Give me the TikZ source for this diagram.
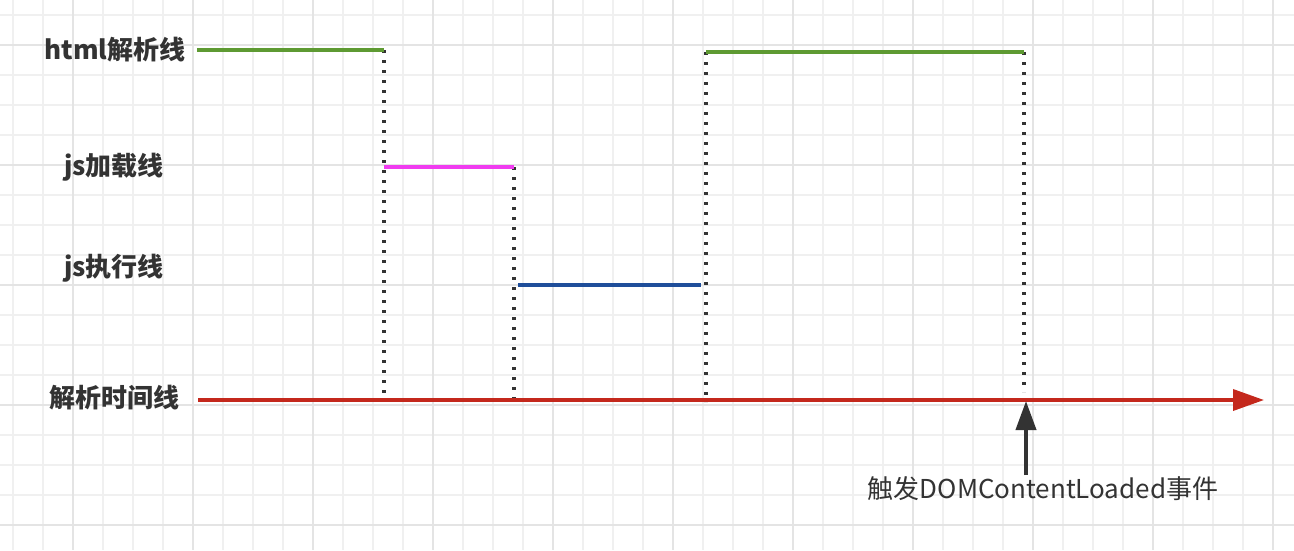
\documentclass[tikz,border=0pt]{standalone}
\usepackage{fontspec}
\usepackage{xcolor}
\usepackage{tikz}
\usetikzlibrary{arrows.meta, positioning}

\newfontfamily\cjk{Noto Sans CJK SC}

\definecolor{gridminor}{HTML}{F0F0F0}
\definecolor{gridmajor}{HTML}{E4E4E4}
\definecolor{htmlgreen}{HTML}{5E9A32}
\definecolor{loadpink}{HTML}{F03CF0}
\definecolor{runblue}{HTML}{1F4E9A}
\definecolor{timered}{HTML}{C4281C}
\definecolor{inkgray}{HTML}{333333}

\begin{document}
\begin{tikzpicture}[
    x=1pt, y=-1pt,
    lbl/.style={font=\cjk\bfseries\fontsize{26}{30}\selectfont, text=inkgray, anchor=center},
    evtlbl/.style={font=\cjk\fontsize{26}{30}\selectfont, text=inkgray, anchor=center},
    htmlline/.style={draw=htmlgreen, line width=3.6pt},
    loadline/.style={draw=loadpink, line width=3.6pt},
    runline/.style={draw=runblue, line width=3.6pt},
    timeline/.style={draw=timered, line width=3.6pt, -{Triangle[length=31pt, width=21pt]}},
    guide/.style={draw=inkgray, line width=3.2pt, dash pattern=on 3.2pt off 6.8pt},
    evtarrow/.style={draw=inkgray, line width=4pt, -{Triangle[length=29pt, width=20pt]}}
]

% background grid
\useasboundingbox (0,0) rectangle (1294,550);
\fill[white] (0,0) rectangle (1294,550);
\foreach \x in {13,43,...,1294} \draw[gridminor, line width=1.5pt] (\x,0) -- (\x,550);
\foreach \y in {15,45,...,550} \draw[gridminor, line width=1.5pt] (0,\y) -- (1294,\y);
\foreach \x in {73,193,...,1294} \draw[gridmajor, line width=2pt] (\x,0) -- (\x,550);
\foreach \y in {45,165,...,550} \draw[gridmajor, line width=2pt] (0,\y) -- (1294,\y);

% row labels
\node[lbl] (htmlLbl) at (115,50) {html解析线};
\node[lbl] (loadLbl) at (114,167) {js加载线};
\node[lbl] (runLbl) at (114,268) {js执行线};
\node[lbl] (timeLbl) at (114,398) {解析时间线};

% step points
\coordinate (htmlA) at (197,50);
\coordinate (htmlB) at (384,50);
\coordinate (loadA) at (384,167);
\coordinate (loadB) at (514,167);
\coordinate (runA) at (518,285);
\coordinate (runB) at (701,285);
\coordinate (htmlC) at (706,52);
\coordinate (htmlD) at (1024,52);
\coordinate (timeA) at (198,400);
\coordinate (timeB) at (1264,400);
\coordinate (evtPt) at (1026,401);

% dotted guides down to the time line
\draw[guide] (htmlB) -- (384,398);
\draw[guide] (loadB) -- (514,398);
\draw[guide] (htmlC) -- (706,402);
\draw[guide] (htmlD) -- (1024,392);

\draw[htmlline] (htmlA) -- (htmlB);
\draw[loadline] (loadA) -- (loadB);
\draw[runline] (runA) -- (runB);
\draw[htmlline] (htmlC) -- (htmlD);
\draw[timeline] (timeA) -- (timeB);

% event
\node[evtlbl] (evt) at (1043,489) {触发DOMContentLoaded事件};
\draw[evtarrow] (evtPt |- 0,475) -- (evtPt);

\end{tikzpicture}
\end{document}
